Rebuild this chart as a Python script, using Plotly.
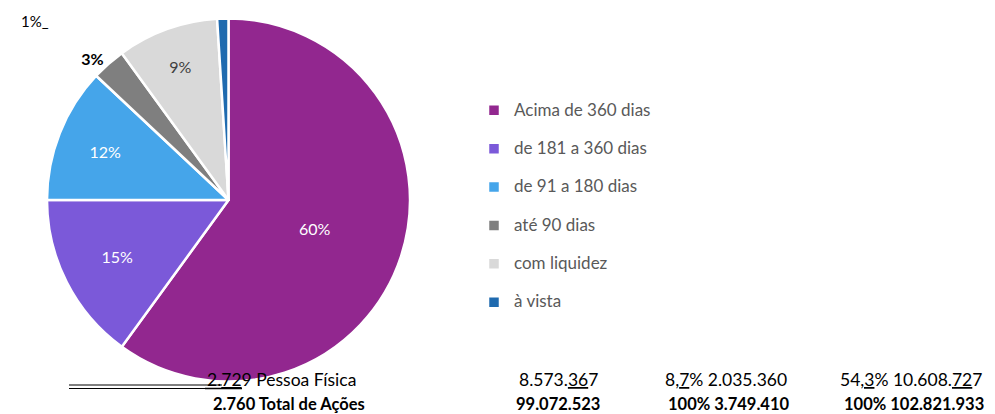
import plotly.graph_objects as go

# dados
categorias = ['Acima de 360 dias', 'de 181 a 360 dias', 'de 91 a 180 dias',
              'até 90 dias', 'com liquidez', 'à vista']
valores = [60, 15, 12, 3, 9, 1]
cores = ['#92278F', '#7B59D9', '#45A5EA', '#7F7F7F', '#D9D9D9', '#1F6AAF']

linha_pf = ['2.<u>72</u>9 Pessoa Física', '8.573.<u>36</u>7',
            '8,<u>7</u>% 2.035.360', '54<u>,3</u>% 10.608.<u>72</u>7']
linha_total = ['<b>2.760 Total de Ações</b>', '<b>99.072.523</b>',
               '<b>100% 3.749.410</b>', '<b>100% 102.821.933</b>']

W, H = 995, 414
FONTE = 'Lato, Liberation Sans, sans-serif'

# legenda: texto maior numa linha, segunda linha vazia para espaçar os itens
rotulos = ['<span style="font-size:17px">' + c + '</span><br> ' for c in categorias]

fig = go.Figure(go.Pie(
    labels=rotulos,
    values=valores,
    sort=False,
    direction='clockwise',
    rotation=0,
    marker=dict(colors=cores, line=dict(color='white', width=2.5)),
    texttemplate=['%{percent:.0%}', '%{percent:.0%}', '%{percent:.0%}',
                  '<b>%{percent:.0%}</b>', '%{percent:.0%}', ''],
    textposition=['inside', 'inside', 'inside', 'outside', 'inside', 'inside'],
    textfont=dict(size=16, family=FONTE,
                  color=['white', 'white', 'white', '#000000', '#404040', 'white']),
    insidetextorientation='horizontal',
    hoverinfo='percent',
    domain=dict(x=[47 / W, 410 / W], y=[(H - 382) / H, (H - 18) / H]),
))

# rótulo do 1% fica fora, no canto
fig.add_annotation(text='1%_', x=19 / W, y=1 - 21 / H, xref='paper', yref='paper',
                   xanchor='left', yanchor='middle', showarrow=False,
                   font=dict(size=15, color='#000000', family=FONTE))

# tabela sobreposta no rodapé
xs_dir = [358, 600, 789, 984]
for i, (t1, t2) in enumerate(zip(linha_pf, linha_total)):
    fig.add_annotation(text=t1, x=xs_dir[i] / W, y=1 - 379 / H, xref='paper', yref='paper',
                       xanchor='right', yanchor='middle', showarrow=False,
                       font=dict(size=17.5, color='#000000', family=FONTE))
    fig.add_annotation(text=t2, x=(xs_dir[i] + (9 if i == 0 else 2)) / W, y=1 - 404 / H,
                       xref='paper', yref='paper',
                       xanchor='right', yanchor='middle', showarrow=False,
                       font=dict(size=16.5, color='#000000', family=FONTE))

# linha dupla de sublinhado
for yy in (385, 388.5):
    fig.add_shape(type='line', xref='paper', yref='paper',
                  x0=69 / W, x1=222 / W, y0=1 - yy / H, y1=1 - yy / H,
                  line=dict(color='#000000', width=1))
fig.add_shape(type='line', xref='paper', yref='paper',
              x0=205 / W, x1=242 / W, y0=1 - 388.5 / H, y1=1 - 388.5 / H,
              line=dict(color='#000000', width=1.5))

fig.update_layout(
    width=W, height=H,
    margin=dict(l=0, r=0, t=0, b=0),
    paper_bgcolor='white',
    plot_bgcolor='white',
    font=dict(family=FONTE, size=15, color='#595959'),
    showlegend=True,
    legend=dict(x=474 / W, y=1 - 95 / H, xanchor='left', yanchor='top',
                valign='top', font=dict(size=13.6, color='#595959'),
                itemwidth=30, traceorder='normal'),
)

fig.write_html('out.html', config={'displayModeBar': False},
               post_script="document.body.style.margin='0px';")
